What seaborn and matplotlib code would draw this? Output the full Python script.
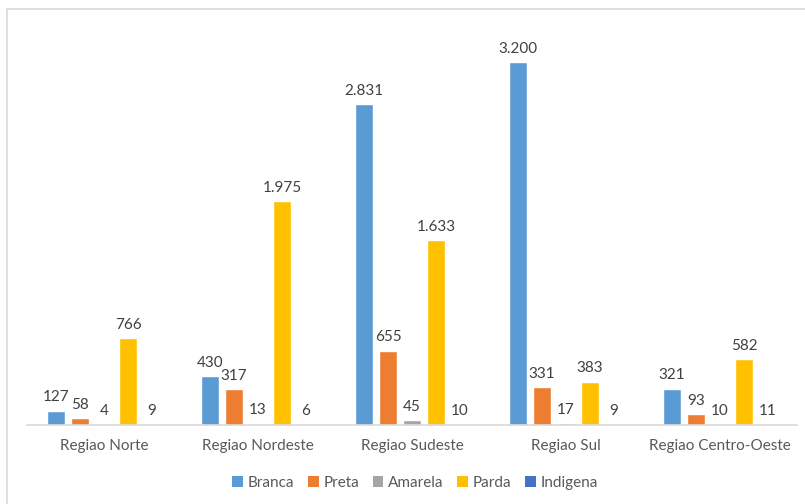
import matplotlib
matplotlib.use("Agg")
import matplotlib.pyplot as plt
import seaborn as sns
import pandas as pd
from matplotlib.patches import Rectangle, Patch

regions = ["Regiao Norte", "Regiao Nordeste", "Regiao Sudeste", "Regiao Sul", "Regiao Centro-Oeste"]
series = ["Branca", "Preta", "Amarela", "Parda", "Indigena"]
branca = [127, 430, 2831, 3200, 321]
preta = [58, 317, 655, 331, 93]
amarela = [4, 13, 45, 17, 10]
parda = [766, 1975, 1633, 383, 582]
indigena = [9, 6, 10, 9, 11]
colors = ["#5B9BD5", "#ED7D31", "#A5A5A5", "#FFC000", "#4472C4"]

values = {"Branca": branca, "Preta": preta, "Amarela": amarela, "Parda": parda, "Indigena": indigena}
rows = []
for s in series:
    for r, v in zip(regions, values[s]):
        rows.append({"Regiao": r, "Serie": s, "Valor": v})
df = pd.DataFrame(rows)

sns.set_theme(style="white")
plt.rcParams["font.family"] = ["Lato", "DejaVu Sans"]

fig = plt.figure(figsize=(8.05, 5.04), dpi=100)
ax = fig.add_axes([27/805, 79/504, 770/805, 397/504])

sns.barplot(data=df, x="Regiao", y="Valor", hue="Serie", order=regions, hue_order=series,
            palette=colors, width=0.78, gap=0.25, ax=ax, legend=False, saturation=1)

def fmt(v):
    return f"{v:,}".replace(",", ".")

for cont in ax.containers:
    for bar in cont:
        h = bar.get_height()
        ax.annotate(fmt(int(round(h))), (bar.get_x() + bar.get_width()/2, h),
                    xytext=(0, 4.5), textcoords="offset points", ha="center", va="bottom",
                    fontsize=11, color="#404040")

ax.set_ylim(0, 3500)
ax.set_xlim(-0.5, 4.5)
ax.set_yticks([])
ax.set_xlabel("")
ax.set_ylabel("")
for sp in ["top", "right", "left"]:
    ax.spines[sp].set_visible(False)
ax.spines["bottom"].set_color("#D9D9D9")
ax.spines["bottom"].set_linewidth(1.2)
ax.tick_params(axis="x", which="major", length=0, labelsize=11, labelcolor="#595959", pad=10)
ax.set_xticks([i - 0.5 for i in range(6)], minor=True)
ax.tick_params(axis="x", which="minor", length=6, color="#D9D9D9", width=1.2)

handles = [Patch(facecolor=c, edgecolor="none") for c in colors]
fig.legend(handles, series, loc="center", bbox_to_anchor=(415/805, 1 - 483/504), ncol=5,
           frameon=False, fontsize=11, labelcolor="#595959", handlelength=0.7, handleheight=0.7,
           handletextpad=0.3, columnspacing=0.9)

fig.patches.append(Rectangle((7/805, -0.05), 1.2, 1 - 9/504 + 0.05, transform=fig.transFigure,
                             fill=False, edgecolor="#D9D9D9", linewidth=1.2))

fig.savefig("out.png", dpi=100)
